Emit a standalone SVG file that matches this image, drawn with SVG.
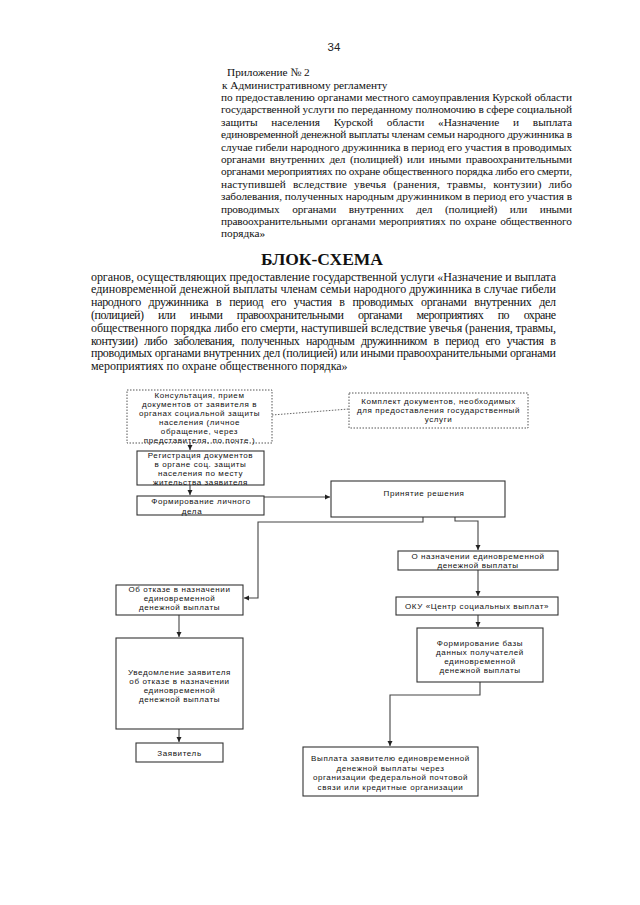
<svg xmlns="http://www.w3.org/2000/svg" width="640" height="905" viewBox="0 0 640 905">
<defs>
<marker id="arr" markerWidth="6" markerHeight="6" refX="5" refY="3" orient="auto" markerUnits="userSpaceOnUse">
<path d="M0,0.5 L5,3 L0,5.5 z" fill="#222"/>
</marker>
<style>
.hd{font-family:"Liberation Serif","Times New Roman",serif;font-size:11.3px;fill:#111}
.pg{font-family:"Liberation Serif","Times New Roman",serif;font-size:12px;fill:#111}
.tt{font-family:"Liberation Serif","Times New Roman",serif;font-size:17.5px;font-weight:bold;fill:#111}
.bx{fill:#fff;stroke:#333;stroke-width:1.1}
.dbx{fill:#fff;stroke:#555;stroke-width:1;stroke-dasharray:1.5 1.5}
.bt{font-family:"Liberation Sans",Arial,sans-serif;font-size:8px;letter-spacing:0.6px;fill:#111;text-anchor:middle}
.cn{fill:none;stroke:#444;stroke-width:1.1}
.dcn{fill:none;stroke:#666;stroke-width:1;stroke-dasharray:1.5 1.5}
</style>
</defs>
<rect width="640" height="905" fill="#fff"/>

<g id="page-number"><text x="334" y="51" text-anchor="middle" font-family="Liberation Sans, Arial, sans-serif" font-size="11.5" fill="#222">34</text></g>

<g id="header">
<text class="hd" x="227" y="76">Приложение № 2</text>
<text class="hd" x="222" y="88.5">к  Административному  регламенту</text>
<text class="hd" x="221" y="101" textLength="351" lengthAdjust="spacing">по предоставлению органами местного самоуправления  Курской области</text>
<text class="hd" x="221" y="113.4" textLength="351" lengthAdjust="spacing">государственной услуги по переданному полномочию в сфере социальной</text>
<text class="hd" x="221" y="125.8" textLength="351" lengthAdjust="spacing" word-spacing="11">защиты населения Курской области «Назначение и выплата</text>
<text class="hd" x="221" y="138.2" textLength="351" lengthAdjust="spacing">единовременной денежной выплаты  членам семьи народного дружинника в</text>
<text class="hd" x="221" y="150.6" textLength="351" lengthAdjust="spacing">случае гибели народного дружинника в период его участия в проводимых</text>
<text class="hd" x="221" y="163" textLength="351" lengthAdjust="spacing" word-spacing="2">органами внутренних дел (полицией) или иными правоохранительными</text>
<text class="hd" x="221" y="175.4" textLength="351" lengthAdjust="spacing">органами мероприятиях по охране общественного порядка либо его смерти,</text>
<text class="hd" x="221" y="187.8" textLength="351" lengthAdjust="spacing" word-spacing="4">наступившей вследствие увечья (ранения, травмы, контузии) либо</text>
<text class="hd" x="221" y="200.2" textLength="351" lengthAdjust="spacing">заболевания, полученных народным дружинником в период его участия в</text>
<text class="hd" x="221" y="212.6" textLength="351" lengthAdjust="spacing" word-spacing="10">проводимых органами внутренних дел (полицией) или иными</text>
<text class="hd" x="221" y="225" textLength="351" lengthAdjust="spacing" word-spacing="1">правоохранительными органами мероприятиях по охране общественного</text>
<text class="hd" x="221" y="237.4">порядка»</text>
</g>

<g id="title">
<text class="tt" x="322" y="265" text-anchor="middle">БЛОК-СХЕМА</text>
</g>

<g id="intro">
<text class="pg" x="91" y="280.5" textLength="465" lengthAdjust="spacing">органов, осуществляющих  предоставление государственной услуги «Назначение  и выплата</text>
<text class="pg" x="91" y="293.3" textLength="465" lengthAdjust="spacing">единовременной денежной выплаты  членам семьи народного дружинника в случае гибели</text>
<text class="pg" x="91" y="306.1" textLength="465" lengthAdjust="spacing" word-spacing="5">народного дружинника в период его участия в проводимых органами внутренних дел</text>
<text class="pg" x="91" y="318.9" textLength="465" lengthAdjust="spacing" word-spacing="12">(полицией) или иными правоохранительными органами мероприятиях по охране</text>
<text class="pg" x="91" y="331.7" textLength="465" lengthAdjust="spacing">общественного порядка либо его смерти, наступившей вследствие увечья (ранения, травмы,</text>
<text class="pg" x="91" y="344.5" textLength="465" lengthAdjust="spacing" word-spacing="4">контузии) либо заболевания, полученных народным дружинником в период его участия в</text>
<text class="pg" x="91" y="357.3" textLength="465" lengthAdjust="spacing">проводимых органами внутренних дел (полицией) или иными правоохранительными органами</text>
<text class="pg" x="91" y="370.1">мероприятиях по охране общественного  порядка»</text>
</g>

<g id="connectors">
<path class="dcn" d="M272,415 L349,409"/>
<path class="cn" d="M190,443 V450" marker-end="url(#arr)"/>
<path class="cn" d="M190,485 V495" marker-end="url(#arr)"/>
<path class="cn" d="M264,497 H330" marker-end="url(#arr)"/>
<path class="cn" d="M423,517 V522 H258 V598 H244" marker-end="url(#arr)"/>
<path class="cn" d="M455,517 V521 H478 V550" marker-end="url(#arr)"/>
<path class="cn" d="M478,570 V596" marker-end="url(#arr)"/>
<path class="cn" d="M478,615 V627" marker-end="url(#arr)"/>
<path class="cn" d="M179,615 V637" marker-end="url(#arr)"/>
<path class="cn" d="M179,729 V742" marker-end="url(#arr)"/>
<path class="cn" d="M480,682 V695 H390 V746" marker-end="url(#arr)"/>
</g>

<g id="n-consult">
<rect class="dbx" x="127" y="390" width="145" height="53"/>
<text class="bt" x="199.5" y="397.5">Консультация, прием</text>
<text class="bt" x="199.5" y="406.5">документов от заявителя в</text>
<text class="bt" x="199.5" y="415.5">органах социальной защиты</text>
<text class="bt" x="199.5" y="424.5">населения  (личное</text>
<text class="bt" x="199.5" y="433.5">обращение, через</text>
<text class="bt" x="199.5" y="442.5">представителя, по почте )</text>
</g>

<g id="n-docs">
<rect class="dbx" x="349" y="393" width="179" height="35"/>
<text class="bt" x="438.5" y="404">Комплект документов, необходимых</text>
<text class="bt" x="438.5" y="413">для предоставления государственный</text>
<text class="bt" x="438.5" y="422">услуги</text>
</g>

<g id="n-register">
<rect class="bx" x="137" y="451" width="127" height="34"/>
<text class="bt" x="200.5" y="458">Регистрация документов</text>
<text class="bt" x="200.5" y="467">в органе соц. защиты</text>
<text class="bt" x="200.5" y="476">населения по месту</text>
<text class="bt" x="200.5" y="485">жительства заявителя</text>
</g>

<g id="n-case">
<rect class="bx" x="137" y="496" width="127" height="19"/>
<text class="bt" x="201" y="504">Формирование личного</text>
<text class="bt" x="192" y="513.5">дела</text>
</g>

<g id="n-decision">
<rect class="bx" x="331" y="481" width="174" height="36"/>
<text class="bt" x="424" y="496">Принятие решения</text>
</g>

<g id="n-grant">
<rect class="bx" x="398" y="551" width="160" height="19"/>
<text class="bt" x="478" y="558.5">О назначении единовременной</text>
<text class="bt" x="478" y="568">денежной выплаты</text>
</g>

<g id="n-oku">
<rect class="bx" x="396" y="597" width="162" height="18"/>
<text class="bt" x="477" y="609">ОКУ «Центр социальных выплат»</text>
</g>

<g id="n-database">
<rect class="bx" x="417" y="628" width="126" height="54"/>
<text class="bt" x="480" y="646">Формирование базы</text>
<text class="bt" x="480" y="655">данных получателей</text>
<text class="bt" x="480" y="664">единовременной</text>
<text class="bt" x="480" y="673">денежной выплаты</text>
</g>

<g id="n-refuse">
<rect class="bx" x="116" y="585" width="127" height="30"/>
<text class="bt" x="179.5" y="592">Об отказе в назначении</text>
<text class="bt" x="179.5" y="601">единовременной</text>
<text class="bt" x="179.5" y="610">денежной выплаты</text>
</g>

<g id="n-notify">
<rect class="bx" x="116" y="638" width="127" height="91"/>
<text class="bt" x="179.5" y="675">Уведомление заявителя</text>
<text class="bt" x="179.5" y="684">об отказе в назначении</text>
<text class="bt" x="179.5" y="693">единовременной</text>
<text class="bt" x="179.5" y="702">денежной выплаты</text>
</g>

<g id="n-applicant">
<rect class="bx" x="136" y="743" width="87" height="19"/>
<text class="bt" x="179.5" y="756">Заявитель</text>
</g>

<g id="n-payment">
<rect class="bx" x="303" y="747" width="175" height="49"/>
<text class="bt" x="390.5" y="761">Выплата заявителю единовременной</text>
<text class="bt" x="390.5" y="770.5">денежной выплаты через</text>
<text class="bt" x="390.5" y="780">организации федеральной почтовой</text>
<text class="bt" x="390.5" y="789.5">связи или кредитные организации</text>
</g>
</svg>
